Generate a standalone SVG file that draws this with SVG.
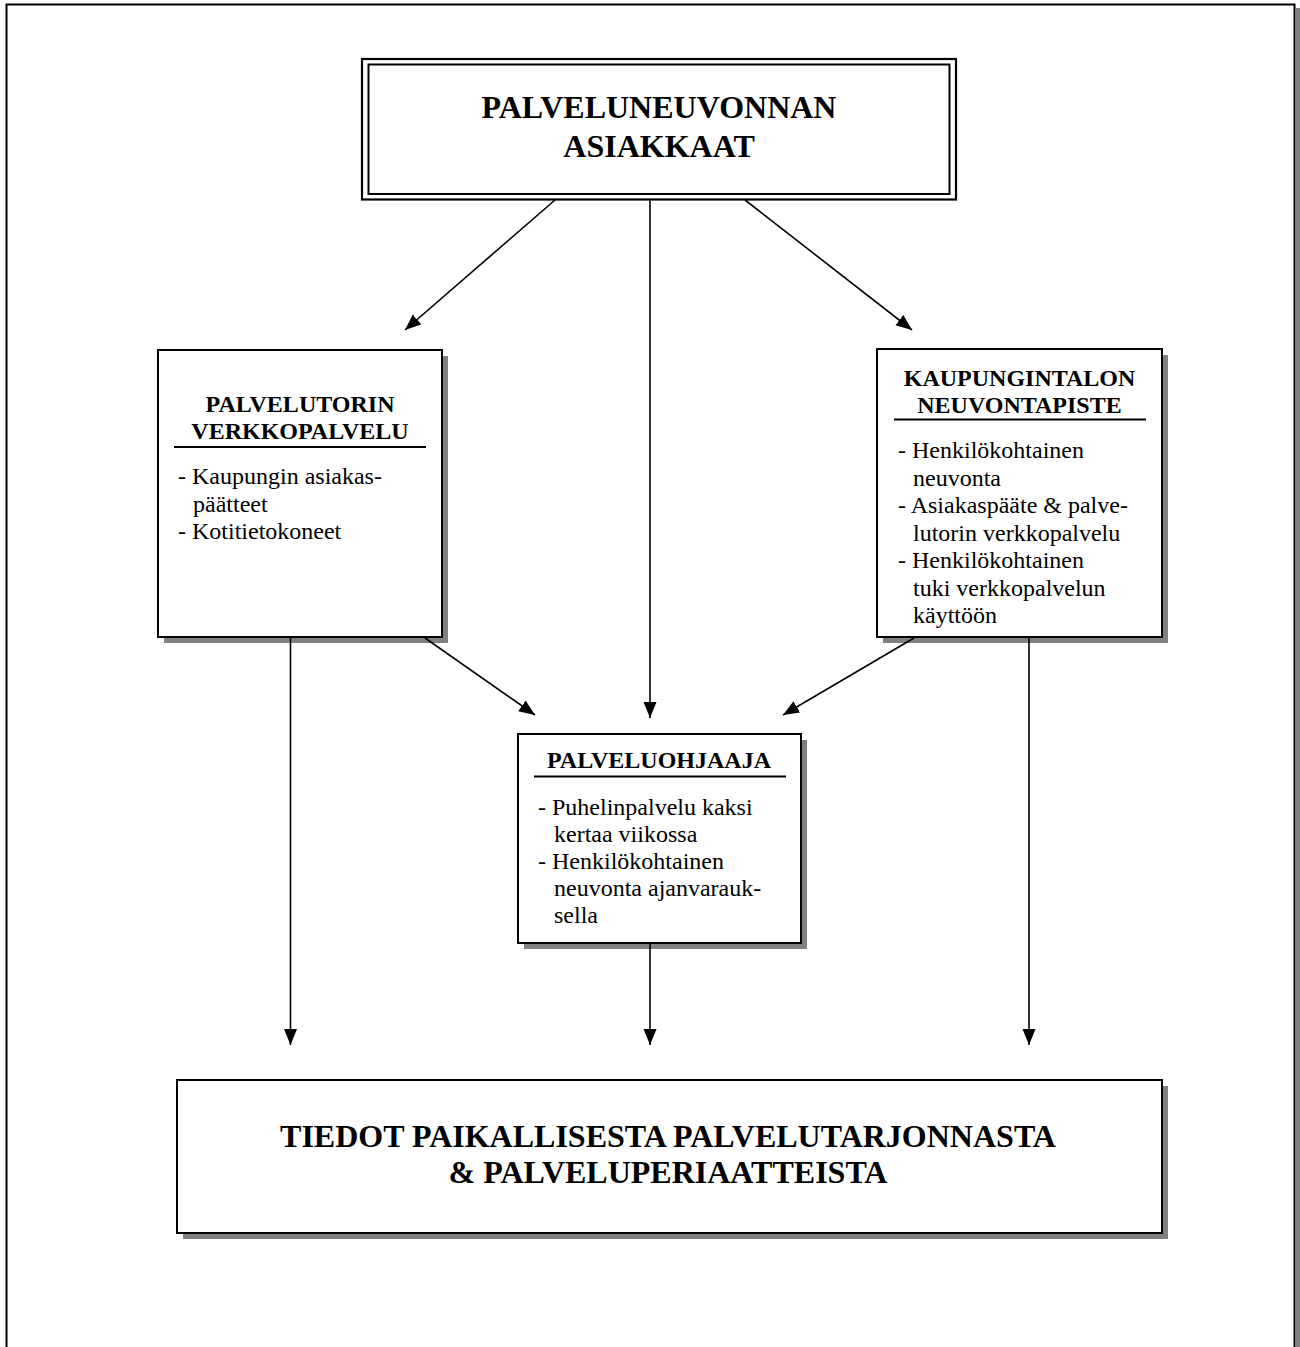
<svg xmlns="http://www.w3.org/2000/svg" width="1300" height="1347" viewBox="0 0 1300 1347">
<defs>
<marker id="ah" markerWidth="18" markerHeight="14" refX="16" refY="7" orient="auto" markerUnits="userSpaceOnUse">
<path d="M0,0.5 L16,7 L0,13.5 Z" fill="#000"/>
</marker>
<style>
.box{fill:#fff;stroke:#000;stroke-width:2}
.sh{fill:#808080}
.ttl{font-family:"Liberation Serif","Times New Roman",serif;font-weight:bold;font-size:24px;fill:#000;text-anchor:middle}
.big{font-family:"Liberation Serif","Times New Roman",serif;font-weight:bold;font-size:32px;fill:#000;text-anchor:middle}
.txt{font-family:"Liberation Serif","Times New Roman",serif;font-size:24px;fill:#000}
.ul{stroke:#000;stroke-width:2}
.conn line{stroke:#000;stroke-width:1.6;marker-end:url(#ah)}
</style>
</defs>
<rect width="1300" height="1347" fill="#fff"/>
<g id="page-border">
<rect x="1296" y="8" width="4" height="1339" fill="#808080"/>
<path d="M6.5,1347 V4.5 H1294.5 V1347" fill="none" stroke="#000" stroke-width="2"/>
</g>
<g id="node-asiakkaat">
<rect x="362" y="59" width="594" height="140.5" fill="#fff" stroke="#000" stroke-width="2.2"/>
<rect x="368.5" y="64.5" width="581" height="129.5" fill="none" stroke="#000" stroke-width="2"/>
<text class="big" x="659" y="118">PALVELUNEUVONNAN</text>
<text class="big" x="659" y="157">ASIAKKAAT</text>
</g>
<g id="node-verkkopalvelu">
<rect class="sh" x="164" y="356" width="284" height="287"/>
<rect class="box" x="158" y="350" width="284" height="287"/>
<text class="ttl" x="300" y="412">PALVELUTORIN</text>
<text class="ttl" x="300" y="439">VERKKOPALVELU</text>
<line class="ul" x1="174" y1="447" x2="426" y2="447"/>
<text class="txt" x="178" y="484">- Kaupungin asiakas-</text>
<text class="txt" x="193" y="511.5">päätteet</text>
<text class="txt" x="178" y="539">- Kotitietokoneet</text>
</g>
<g id="node-neuvontapiste">
<rect class="sh" x="883" y="355" width="285" height="288"/>
<rect class="box" x="877" y="349" width="285" height="288"/>
<text class="ttl" x="1019.5" y="386">KAUPUNGINTALON</text>
<text class="ttl" x="1019.5" y="412.5">NEUVONTAPISTE</text>
<line class="ul" x1="894" y1="419.5" x2="1146" y2="419.5"/>
<text class="txt" x="898" y="458">- Henkilökohtainen</text>
<text class="txt" x="913" y="485.5">neuvonta</text>
<text class="txt" x="898" y="513">- Asiakaspääte &amp; palve-</text>
<text class="txt" x="913" y="540.5">lutorin verkkopalvelu</text>
<text class="txt" x="898" y="568">- Henkilökohtainen</text>
<text class="txt" x="913" y="595.5">tuki verkkopalvelun</text>
<text class="txt" x="913" y="623">käyttöön</text>
</g>
<g id="node-palveluohjaaja">
<rect class="sh" x="524" y="740" width="283" height="209"/>
<rect class="box" x="518" y="734" width="283" height="209"/>
<text class="ttl" x="659" y="768">PALVELUOHJAAJA</text>
<line class="ul" x1="534" y1="776.5" x2="786" y2="776.5"/>
<text class="txt" x="538" y="815">- Puhelinpalvelu kaksi</text>
<text class="txt" x="554" y="842">kertaa viikossa</text>
<text class="txt" x="538" y="869">- Henkilökohtainen</text>
<text class="txt" x="554" y="896">neuvonta ajanvarauk-</text>
<text class="txt" x="554" y="923">sella</text>
</g>
<g id="node-tiedot">
<rect class="sh" x="183" y="1086" width="985" height="153"/>
<rect class="box" x="177" y="1080" width="985" height="153"/>
<text class="big" x="668" y="1147">TIEDOT PAIKALLISESTA PALVELUTARJONNASTA</text>
<text class="big" x="668" y="1183">&amp; PALVELUPERIAATTEISTA</text>
</g>
<g id="connectors" class="conn">
<line x1="555" y1="200" x2="405" y2="330"/>
<line x1="650" y1="200.5" x2="650" y2="718"/>
<line x1="745" y1="200" x2="912" y2="330"/>
<line x1="425" y1="638" x2="535" y2="715"/>
<line x1="914" y1="638" x2="783" y2="715"/>
<line x1="290.5" y1="638" x2="290.5" y2="1045"/>
<line x1="650" y1="944" x2="650" y2="1045"/>
<line x1="1029" y1="638" x2="1029" y2="1045"/>
</g>
</svg>
